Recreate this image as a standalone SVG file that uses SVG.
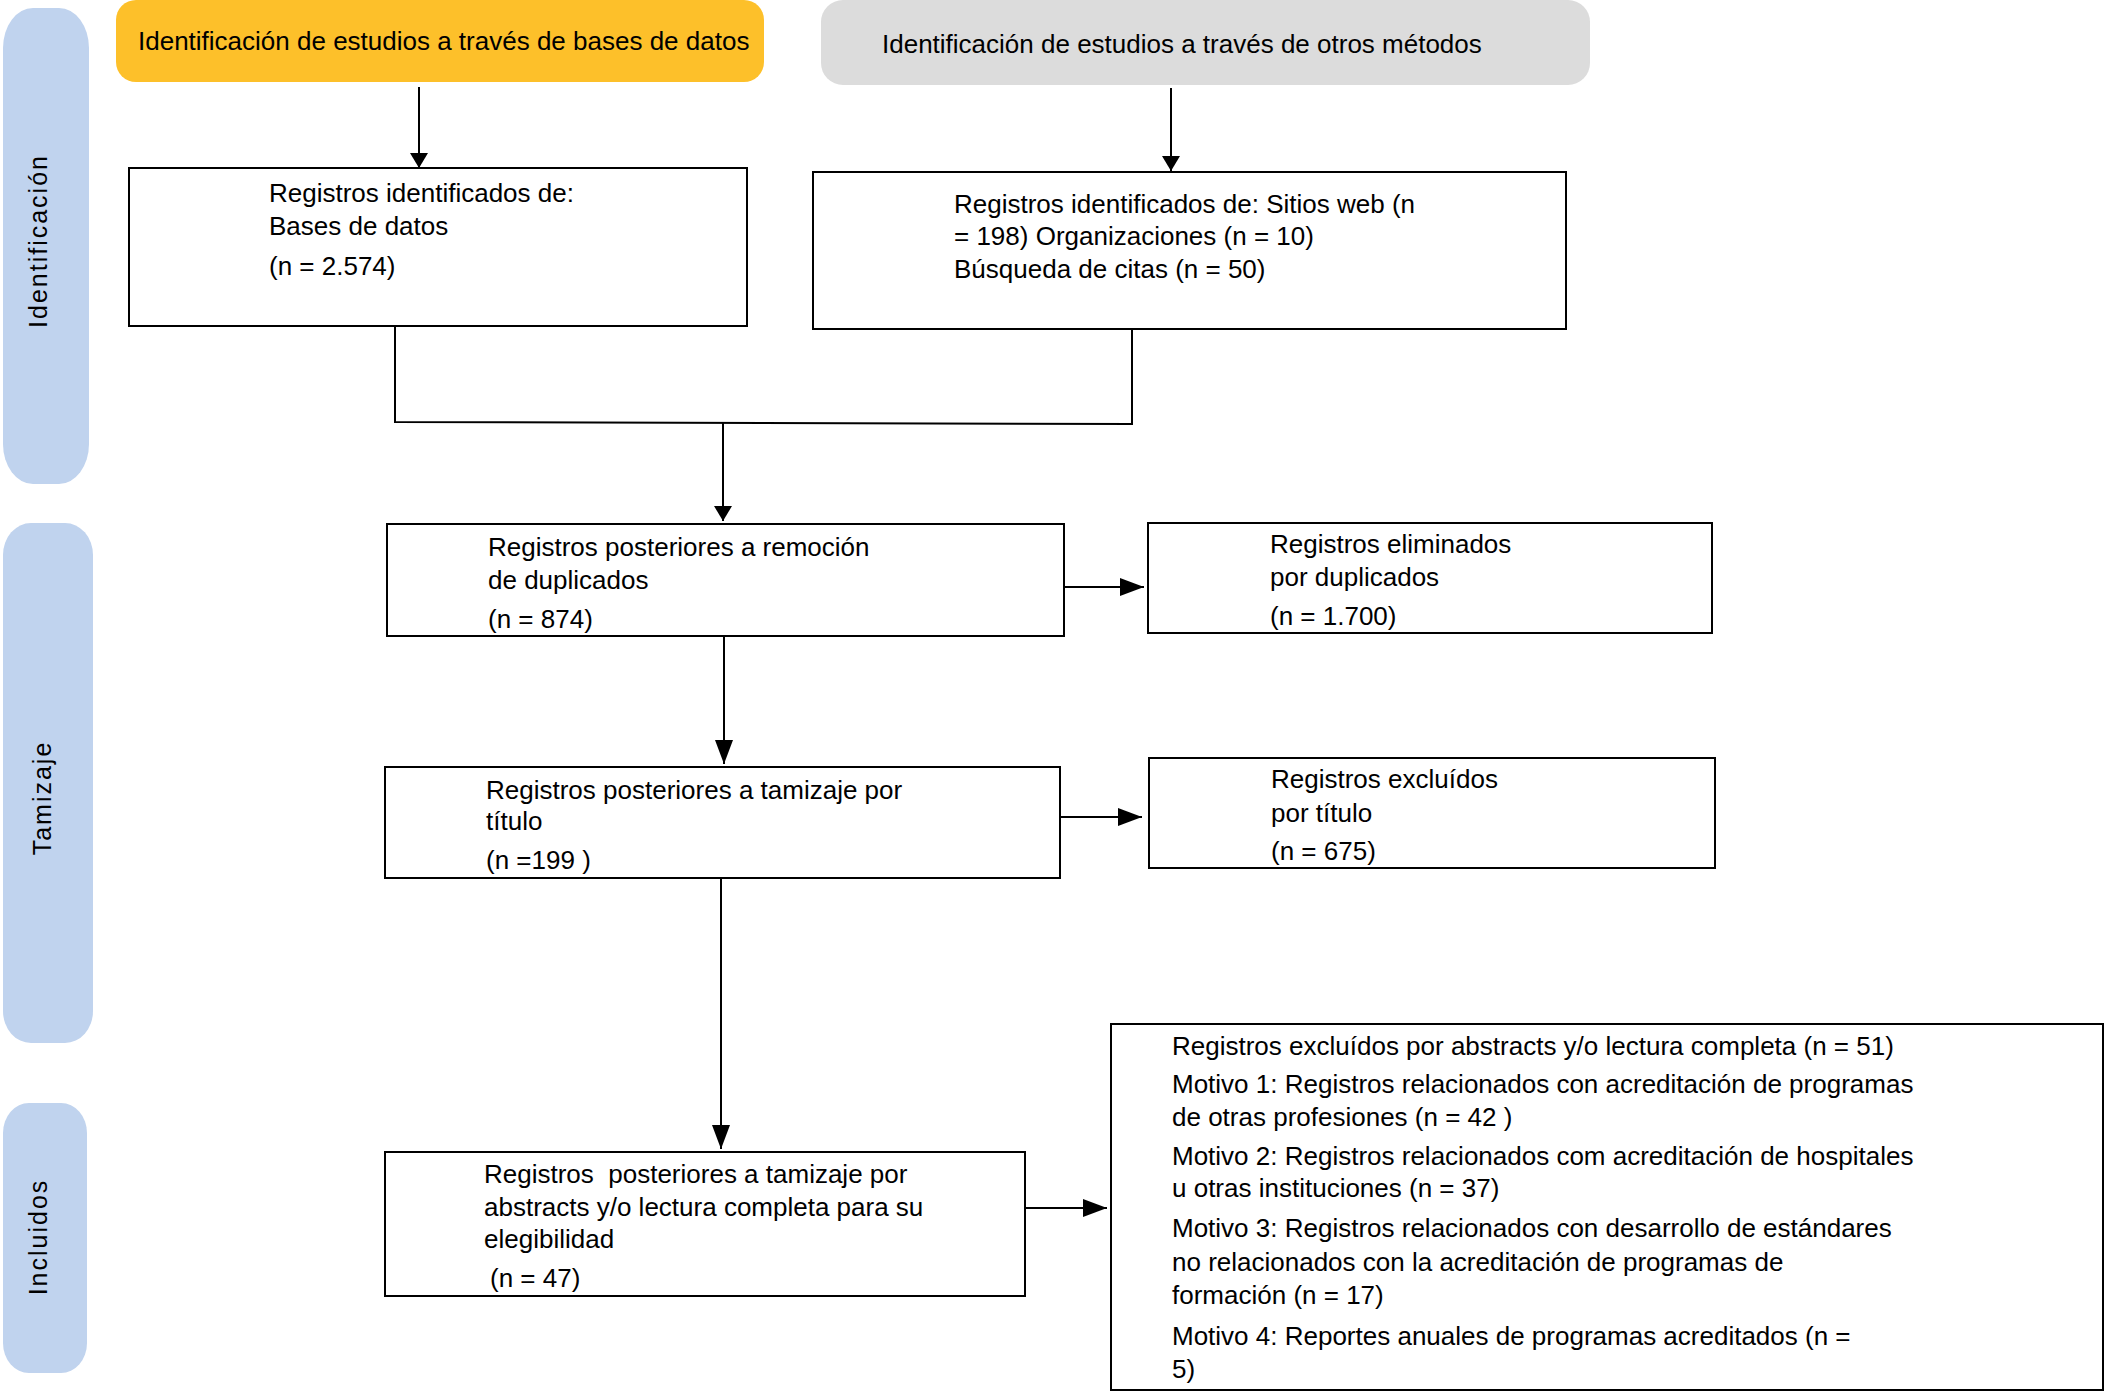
<svg xmlns="http://www.w3.org/2000/svg" width="2106" height="1392" viewBox="0 0 2106 1392">
<style>
  .t { font-family: "Liberation Sans", Arial, sans-serif; font-size: 26px; fill: #000; }
  .side { font-family: "Liberation Sans", Arial, sans-serif; font-size: 25px; letter-spacing: 2px; fill: #000; }
  .pill { fill: #c0d3ee; }
  .box { fill: #fff; stroke: #000; stroke-width: 2; }
  .con { fill: none; stroke: #000; stroke-width: 2; }
</style>
<defs>
  <marker id="arrS" markerUnits="userSpaceOnUse" markerWidth="16" markerHeight="20" refX="15" refY="10" orient="auto">
    <path d="M0,1 L15,10 L0,19 z" fill="#000"/>
  </marker>
  <marker id="arrL" markerUnits="userSpaceOnUse" markerWidth="25" markerHeight="20" refX="24" refY="10" orient="auto">
    <path d="M0,1 L24,10 L0,19 z" fill="#000"/>
  </marker>
</defs>
<rect width="2106" height="1392" fill="#fff"/>

<g id="phase-identificacion">
  <rect class="pill" x="3" y="8" width="86" height="476" rx="30" ry="40"/>
  <text class="side" text-anchor="middle" transform="translate(47,241) rotate(-90)">Identificación</text>
</g>
<g id="phase-tamizaje">
  <rect class="pill" x="3" y="523" width="90" height="520" rx="28" ry="32"/>
  <text class="side" text-anchor="middle" transform="translate(51,798) rotate(-90)">Tamizaje</text>
</g>
<g id="phase-incluidos">
  <rect class="pill" x="3" y="1103" width="84" height="270" rx="26" ry="30"/>
  <text class="side" text-anchor="middle" transform="translate(47,1237) rotate(-90)">Incluidos</text>
</g>

<g id="header-bases">
  <rect x="116" y="0" width="648" height="82" rx="20" fill="#fdc02a"/>
  <text class="t" x="138" y="50">Identificación de estudios a través de bases de datos</text>
</g>
<g id="header-otros">
  <rect x="821" y="0" width="769" height="85" rx="22" fill="#dcdcdc"/>
  <text class="t" x="882" y="53">Identificación de estudios a través de otros métodos</text>
</g>

<g id="box-bases">
  <rect class="box" x="129" y="168" width="618" height="158" stroke-width="1.5"/>
  <text class="t" x="269" y="202">Registros identificados de:</text>
  <text class="t" x="269" y="235">Bases de datos</text>
  <text class="t" x="269" y="275">(n = 2.574)</text>
</g>
<g id="box-otros">
  <rect class="box" x="813" y="172" width="753" height="157" stroke-width="2.5"/>
  <text class="t" x="954" y="213">Registros identificados de: Sitios web (n</text>
  <text class="t" x="954" y="245">= 198) Organizaciones (n = 10)</text>
  <text class="t" x="954" y="278">Búsqueda de citas (n = 50)</text>
</g>

<g id="box-duplicados">
  <rect class="box" x="387" y="524" width="677" height="112"/>
  <text class="t" x="488" y="556">Registros posteriores a remoción</text>
  <text class="t" x="488" y="589">de duplicados</text>
  <text class="t" x="488" y="628">(n = 874)</text>
</g>
<g id="box-eliminados">
  <rect class="box" x="1148" y="523" width="564" height="110"/>
  <text class="t" x="1270" y="553">Registros eliminados</text>
  <text class="t" x="1270" y="586">por duplicados</text>
  <text class="t" x="1270" y="625">(n = 1.700)</text>
</g>

<g id="box-titulo">
  <rect class="box" x="385" y="767" width="675" height="111"/>
  <text class="t" x="486" y="799">Registros posteriores a tamizaje por</text>
  <text class="t" x="486" y="830">título</text>
  <text class="t" x="486" y="869">(n =199 )</text>
</g>
<g id="box-excluidos-titulo">
  <rect class="box" x="1149" y="758" width="566" height="110"/>
  <text class="t" x="1271" y="788">Registros excluídos</text>
  <text class="t" x="1271" y="822">por título</text>
  <text class="t" x="1271" y="860">(n = 675)</text>
</g>

<g id="box-elegibilidad">
  <rect class="box" x="385" y="1152" width="640" height="144"/>
  <text class="t" x="484" y="1183" xml:space="preserve">Registros  posteriores a tamizaje por</text>
  <text class="t" x="484" y="1216">abstracts y/o lectura completa para su</text>
  <text class="t" x="484" y="1248">elegibilidad</text>
  <text class="t" x="490" y="1287">(n = 47)</text>
</g>

<g id="box-excluidos-completa">
  <rect class="box" x="1111" y="1024" width="992" height="366" stroke-width="1.5"/>
  <text class="t" x="1172" y="1055">Registros excluídos por abstracts y/o lectura completa (n = 51)</text>
  <text class="t" x="1172" y="1093">Motivo 1: Registros relacionados con acreditación de programas</text>
  <text class="t" x="1172" y="1126">de otras profesiones (n = 42 )</text>
  <text class="t" x="1172" y="1165">Motivo 2: Registros relacionados com acreditación de hospitales</text>
  <text class="t" x="1172" y="1197">u otras instituciones (n = 37)</text>
  <text class="t" x="1172" y="1237">Motivo 3: Registros relacionados con desarrollo de estándares</text>
  <text class="t" x="1172" y="1271">no relacionados con la acreditación de programas de</text>
  <text class="t" x="1172" y="1304">formación (n = 17)</text>
  <text class="t" x="1172" y="1345">Motivo 4: Reportes anuales de programas acreditados (n =</text>
  <text class="t" x="1172" y="1378">5)</text>
</g>

<g id="connectors">
  <line class="con" x1="419" y1="87" x2="419" y2="168" stroke-width="1.5" marker-end="url(#arrS)"/>
  <line class="con" x1="1171" y1="88" x2="1171" y2="171" stroke-width="1.5" marker-end="url(#arrS)"/>
  <path class="con" d="M395,327 V422 L1132,424 V330" stroke-width="2.5"/>
  <line class="con" x1="723" y1="423" x2="723" y2="521" stroke-width="1.5" marker-end="url(#arrS)"/>
  <line class="con" x1="724" y1="636" x2="724" y2="764" stroke-width="1.5" marker-end="url(#arrL)"/>
  <line class="con" x1="721" y1="878" x2="721" y2="1149" stroke-width="3" marker-end="url(#arrL)"/>
  <line class="con" x1="1064" y1="587" x2="1144" y2="587" stroke-width="1.5" marker-end="url(#arrL)"/>
  <line class="con" x1="1060" y1="817" x2="1142" y2="817" stroke-width="1.5" marker-end="url(#arrL)"/>
  <line class="con" x1="1025" y1="1208" x2="1107" y2="1208" stroke-width="2" marker-end="url(#arrL)"/>
</g>
</svg>
